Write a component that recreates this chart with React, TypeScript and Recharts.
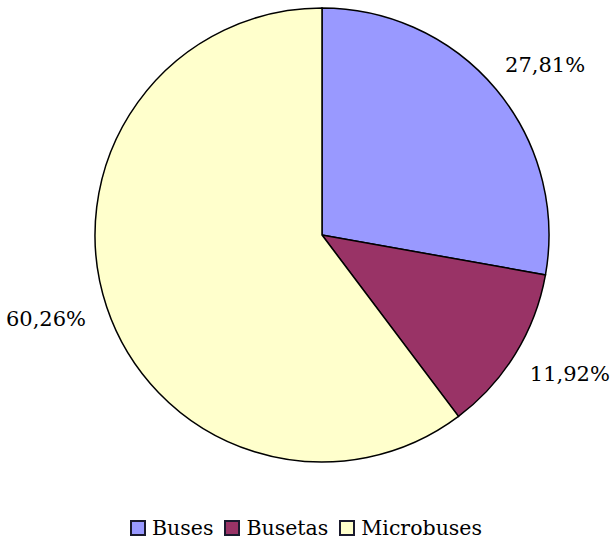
import React from "react";
import { PieChart, Pie, Cell, Legend } from "recharts";

const categories = ["Buses", "Busetas", "Microbuses"];
const shares = [27.81, 11.92, 60.26];
const colors = ["#9999FF", "#993366", "#FFFFCC"];

const data = categories.map((name, i) => ({ name, value: shares[i] }));

const FONT = "'DejaVu Serif', serif";
const RAD = Math.PI / 180;

const renderLabel = (props: any) => {
  const { cx, cy, midAngle, outerRadius, value } = props;
  const rx = outerRadius + 64;
  const ry = outerRadius + 38;
  const x = cx + rx * Math.cos(-midAngle * RAD);
  const y = cy + ry * Math.sin(-midAngle * RAD);
  return (
    <text
      x={x}
      y={y}
      textAnchor="middle"
      dominantBaseline="central"
      fontFamily={FONT}
      fontSize={21}
      fill="#000"
    >
      {value.toFixed(2).replace(".", ",") + "%"}
    </text>
  );
};

const renderLegend = () => (
  <div
    style={{
      display: "flex",
      justifyContent: "center",
      alignItems: "center",
      fontFamily: FONT,
      fontSize: 20.5,
      color: "#000",
    }}
  >
    {categories.map((c, i) => (
      <div key={c} style={{ display: "flex", alignItems: "center", marginRight: i < categories.length - 1 ? 11 : 0 }}>
        <span
          style={{
            display: "inline-block",
            width: 12,
            height: 12,
            background: colors[i],
            border: "2px solid #1a1a2e",
            marginRight: 6,
          }}
        />
        <span>{c}</span>
      </div>
    ))}
  </div>
);

export default function App() {
  return (
    <div style={{ position: "absolute", left: 0, top: 0, width: 612, height: 542, background: "#fff" }}>
      <PieChart width={612} height={542} margin={{ top: 0, right: 0, bottom: 0, left: 0 }}>
        <Pie
          data={data}
          dataKey="value"
          nameKey="name"
          cx={322}
          cy={235}
          outerRadius={227}
          startAngle={90}
          endAngle={-270}
          stroke="#000"
          strokeWidth={1.5}
          label={renderLabel}
          labelLine={false}
          isAnimationActive={false}
        >
          {data.map((d, i) => (
            <Cell key={d.name} fill={colors[i]} />
          ))}
        </Pie>
        <Legend
          content={renderLegend}
          wrapperStyle={{ position: "absolute", top: 516, left: 0, width: 612 }}
        />
      </PieChart>
    </div>
  );
}
